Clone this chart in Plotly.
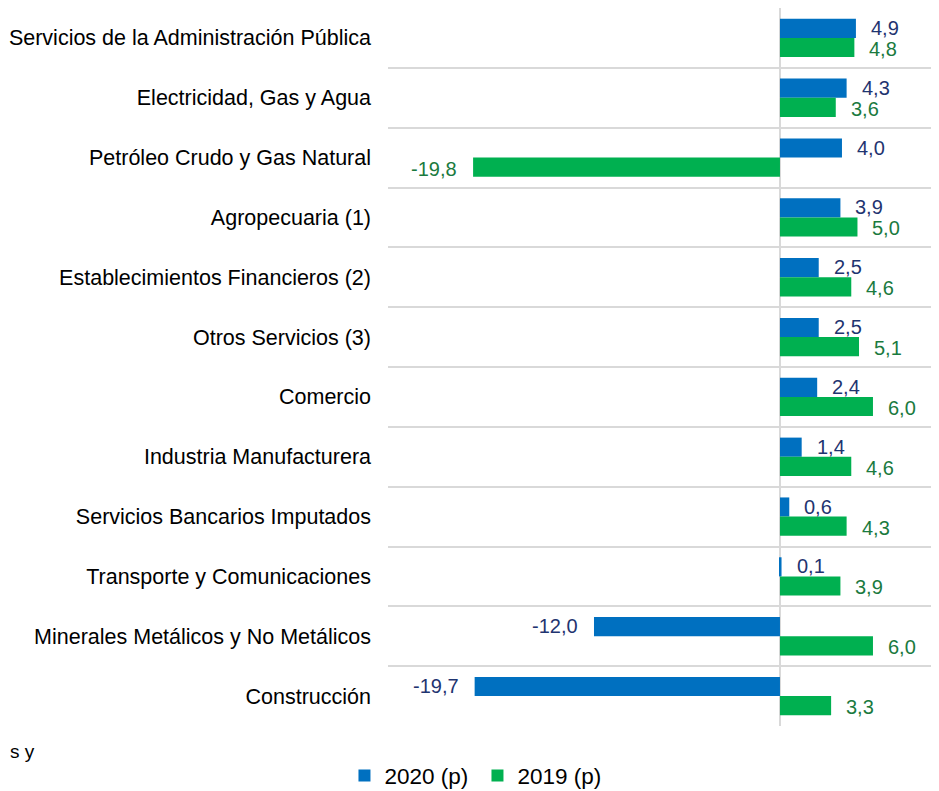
import plotly.graph_objects as go

categories = [
    "Servicios de la Administración Pública",
    "Electricidad, Gas y Agua",
    "Petróleo Crudo y Gas Natural",
    "Agropecuaria (1)",
    "Establecimientos Financieros (2)",
    "Otros Servicios (3)",
    "Comercio",
    "Industria Manufacturera",
    "Servicios Bancarios Imputados",
    "Transporte y Comunicaciones",
    "Minerales Metálicos y No Metálicos",
    "Construcción",
]
values_2020 = [4.9, 4.3, 4.0, 3.9, 2.5, 2.5, 2.4, 1.4, 0.6, 0.1, -12.0, -19.7]
values_2019 = [4.8, 3.6, -19.8, 5.0, 4.6, 5.1, 6.0, 4.6, 4.3, 3.9, 6.0, 3.3]
series_names = ["2020 (p)", "2019 (p)"]
footnote_fragment = "s y"

BLUE = "#0070C0"
GREEN = "#00B050"
BLUE_TXT = "#1F3470"
GREEN_TXT = "#1A7A3E"
FONT = "Liberation Sans, Arial, sans-serif"

def fmt(v):
    return f"{v:.1f}".replace(".", ",")

fig = go.Figure()
fig.add_trace(go.Bar(y=categories, x=values_2020, name=series_names[0], orientation="h",
                     marker=dict(color=BLUE, line=dict(width=0))))
fig.add_trace(go.Bar(y=categories, x=values_2019, name=series_names[1], orientation="h",
                     marker=dict(color=GREEN, line=dict(width=0))))

annotations = []
for vals, col, ysh in [(values_2020, BLUE_TXT, 10), (values_2019, GREEN_TXT, -11)]:
    for c, v in zip(categories, vals):
        annotations.append(dict(
            x=v, y=c, xref="x", yref="y", text=fmt(v), showarrow=False,
            xanchor="left" if v >= 0 else "right",
            xshift=13 if v >= 0 else -14, yshift=ysh,
            font=dict(family=FONT, size=20, color=col),
        ))
annotations.append(dict(x=-0.6897, y=-0.0362, xref="paper", yref="paper",
                        text=footnote_fragment, showarrow=False,
                        xanchor="left", yanchor="middle",
                        font=dict(family=FONT, size=19, color="#000")))

fig.update_layout(
    width=931, height=783,
    margin=dict(l=380, r=0, t=0, b=65, autoexpand=False),
    plot_bgcolor="white", paper_bgcolor="white",
    barmode="group", bargap=0.36, bargroupgap=0,
    font=dict(family=FONT, size=21, color="#000"),
    showlegend=True,
    legend=dict(orientation="h", x=-0.079, xanchor="left", y=-0.0696, yanchor="middle",
                font=dict(family=FONT, size=22.5, color="#000"),
                itemwidth=30, traceorder="normal", entrywidth=88, entrywidthmode="pixels"),
    xaxis=dict(range=[-25.29, 10.26], showticklabels=False, showgrid=False,
               zeroline=True, zerolinecolor="#D9D9D9", zerolinewidth=2, fixedrange=True),
    yaxis=dict(type="category", autorange="reversed", tickson="boundaries",
               showgrid=True, gridcolor="#D9D9D9", gridwidth=1.5, ticks="",
               ticklabelstandoff=16, showline=False,
               tickfont=dict(family=FONT, size=21.5, color="#000")),
    annotations=annotations,
)

fig.write_html("out.html")
